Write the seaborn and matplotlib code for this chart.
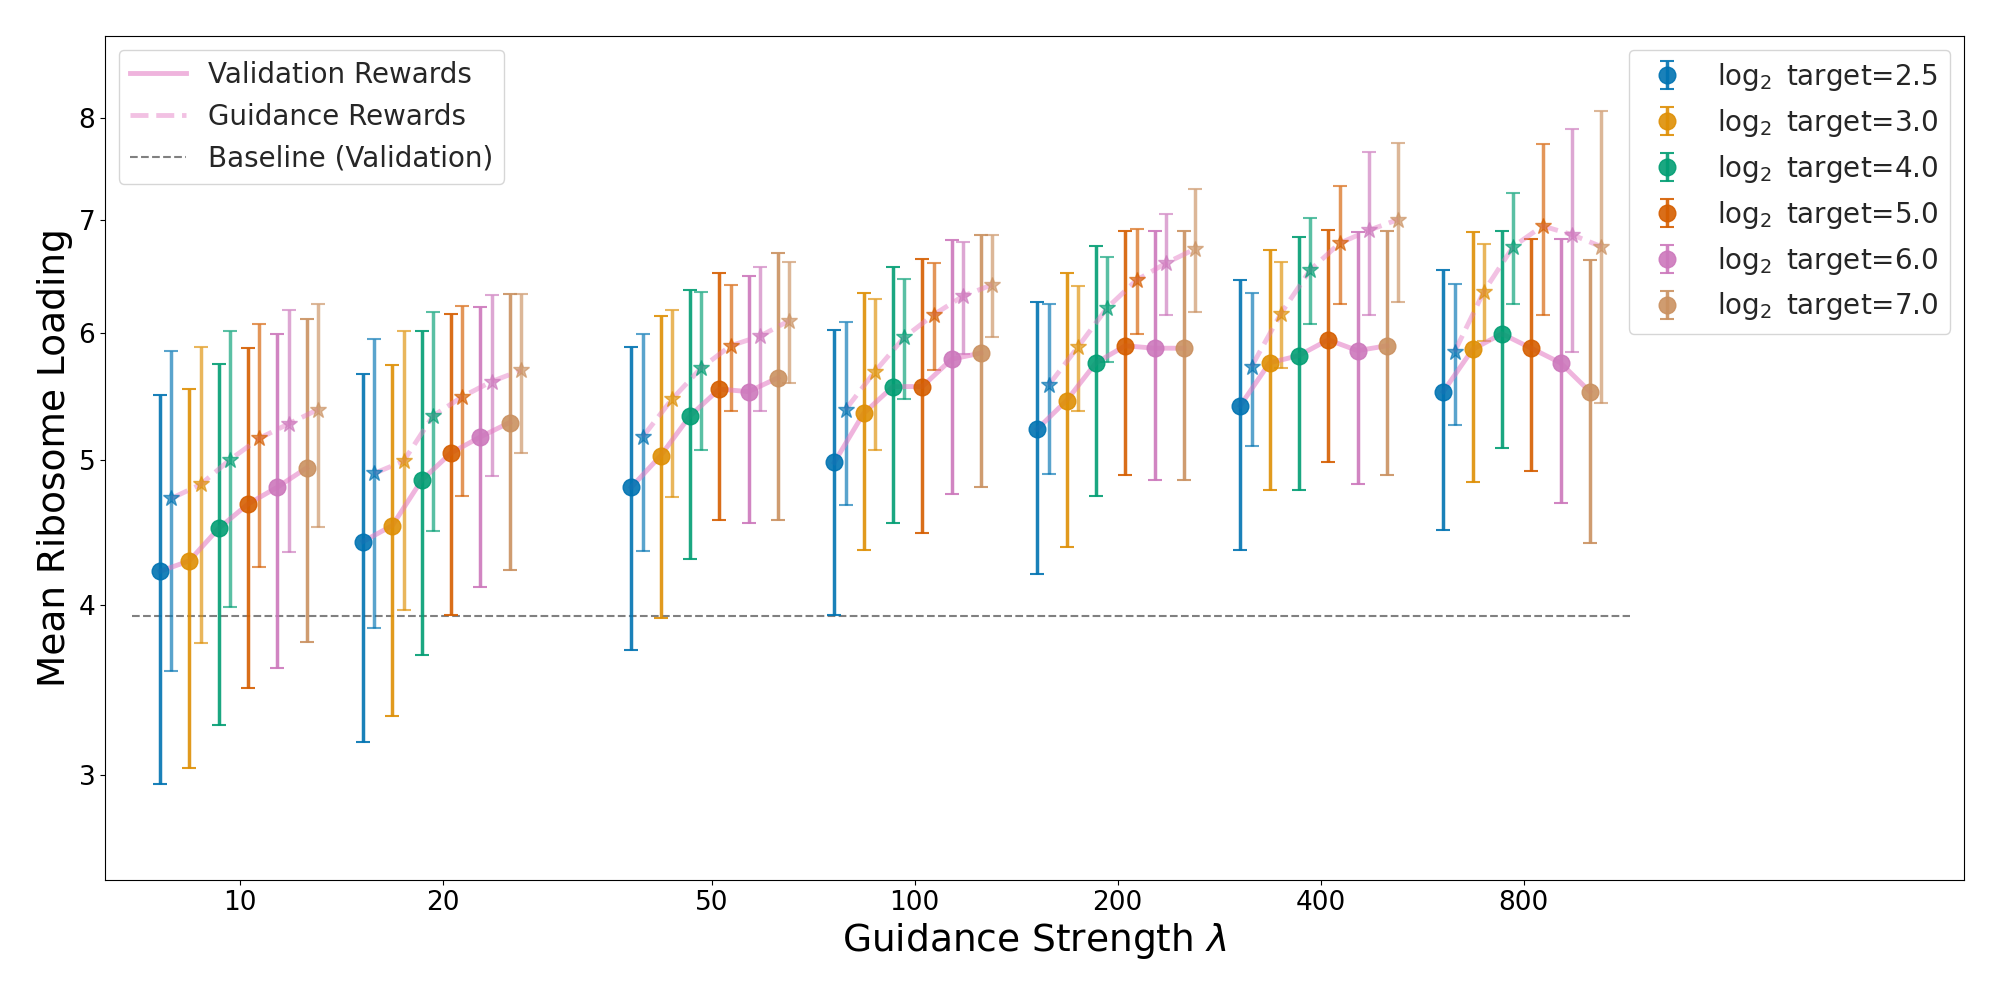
import numpy as np
import pandas as pd
import matplotlib
matplotlib.use("Agg")
import matplotlib.pyplot as plt
from matplotlib.lines import Line2D
from matplotlib.ticker import NullLocator
import seaborn as sns

# guidance strengths and log2 targets
guidance = [10, 20, 50, 100, 200, 400, 800]
targets = [2.5, 3.0, 4.0, 5.0, 6.0, 7.0]
baseline = 3.93

# validation rewards: rows = target, cols = guidance strength
val_mean = [
    [4.22, 4.42, 4.80, 4.98, 5.23, 5.41, 5.52],
    [4.29, 4.53, 5.03, 5.35, 5.45, 5.75, 5.86],
    [4.51, 4.85, 5.33, 5.56, 5.75, 5.81, 5.99],
    [4.68, 5.05, 5.54, 5.56, 5.89, 5.94, 5.87],
    [4.80, 5.17, 5.52, 5.78, 5.87, 5.85, 5.75],
    [4.94, 5.28, 5.63, 5.83, 5.87, 5.89, 5.52],
]
val_std = [
    [1.27, 1.24, 1.08, 1.04, 1.03, 1.045, 1.02],
    [1.25, 1.20, 1.11, 0.99, 1.065, 0.97, 1.02],
    [1.23, 1.16, 1.03, 1.01, 1.01, 1.03, 0.90],
    [1.19, 1.11, 0.97, 1.08, 1.00, 0.96, 0.95],
    [1.19, 1.05, 0.97, 1.03, 1.02, 1.03, 1.065],
    [1.17, 1.05, 1.06, 1.03, 1.02, 1.00, 1.11],
]

# guidance rewards
gd_mean = [
    [4.72, 4.90, 5.17, 5.38, 5.57, 5.72, 5.84],
    [4.82, 4.99, 5.46, 5.68, 5.88, 6.16, 6.35],
    [5.00, 5.33, 5.71, 5.96, 6.21, 6.54, 6.75],
    [5.16, 5.48, 5.89, 6.15, 6.45, 6.78, 6.94],
    [5.27, 5.60, 5.97, 6.31, 6.60, 6.90, 6.86],
    [5.38, 5.69, 6.10, 6.41, 6.73, 7.00, 6.75],
]
gd_std = [
    [1.13, 1.045, 0.815, 0.705, 0.675, 0.62, 0.58],
    [1.06, 1.02, 0.73, 0.605, 0.515, 0.455, 0.42],
    [1.01, 0.84, 0.64, 0.50, 0.45, 0.47, 0.505],
    [0.91, 0.745, 0.52, 0.455, 0.465, 0.535, 0.79],
    [0.92, 0.72, 0.60, 0.485, 0.45, 0.75, 1.02],
    [0.86, 0.64, 0.51, 0.445, 0.56, 0.74, 1.32],
]

colors = sns.color_palette("colorblind", len(targets))
pink = "#e377c2"

fig, ax = plt.subplots(figsize=(20, 10), dpi=100)
fig.subplots_adjust(left=0.0525, right=0.982, bottom=0.12, top=0.964)

ax.set_xscale("log")
ax.set_yscale("function", functions=(lambda y: np.log(np.clip(y + 2.5, 1e-6, None)),
                                     lambda v: np.exp(v) - 2.5))

# spread the targets around each guidance value (in log space)
step = 0.0435
half = 0.0084
rows = []
handles = []
for i, t in enumerate(targets):
    shift = (i - 2.5) * step - 0.002
    xv = [g * 10 ** (shift - half) for g in guidance]
    xg = [g * 10 ** (shift + half) for g in guidance]

    eb = ax.errorbar(xv, val_mean[i], yerr=val_std[i], fmt="o", color=colors[i],
                     ms=12, elinewidth=2.5, capsize=5, capthick=1.5, alpha=0.9,
                     label=rf"$\log_2$ target={t}")
    eb[0].set_zorder(4)
    handles.append(eb)

    es = ax.errorbar(xg, gd_mean[i], yerr=gd_std[i], fmt="*", color=colors[i],
                     ms=12, elinewidth=2.5, capsize=5, capthick=1.5, alpha=0.65)
    es[0].set_zorder(4)

    for j, g in enumerate(guidance):
        rows.append({"x": xv[j], "y": val_mean[i][j], "kind": "val", "group": g})
        rows.append({"x": xg[j], "y": gd_mean[i][j], "kind": "gd", "group": g})

df = pd.DataFrame(rows)

sns.lineplot(data=df[df.kind == "val"], x="x", y="y", units="group", estimator=None,
             color=pink, lw=3.5, alpha=0.55, ax=ax, zorder=3, legend=False)
sns.lineplot(data=df[df.kind == "gd"], x="x", y="y", units="group", estimator=None,
             color=pink, lw=3.5, alpha=0.45, linestyle="--", ax=ax, zorder=3, legend=False)

ax.hlines(baseline, 6.9, 1150, colors="gray", linestyles="--", lw=1.5, zorder=1)

ax.set_xlim(6.3, 3600)
ax.set_ylim(2.46, 8.88)
ax.set_xticks(guidance)
ax.set_xticklabels([str(g) for g in guidance])
ax.xaxis.set_minor_locator(NullLocator())
ax.set_yticks([3, 4, 5, 6, 7, 8])
ax.set_yticklabels(["3", "4", "5", "6", "7", "8"])
ax.yaxis.set_minor_locator(NullLocator())
ax.tick_params(labelsize=19)

ax.set_xlabel(r"Guidance Strength $\lambda$", fontsize=27)
ax.set_ylabel("Mean Ribosome Loading", fontsize=27)

line_handles = [
    Line2D([], [], color=pink, lw=3.5, alpha=0.55),
    Line2D([], [], color=pink, lw=3.5, alpha=0.45, linestyle="--"),
    Line2D([], [], color="gray", lw=1.5, linestyle="--"),
]
leg1 = ax.legend(line_handles, ["Validation Rewards", "Guidance Rewards", "Baseline (Validation)"],
                 loc="upper left", fontsize=20, labelcolor="#262626")
ax.add_artist(leg1)
ax.legend(handles=handles, loc="upper right", fontsize=20, labelcolor="#262626")

fig.savefig("out.png", dpi=100)
